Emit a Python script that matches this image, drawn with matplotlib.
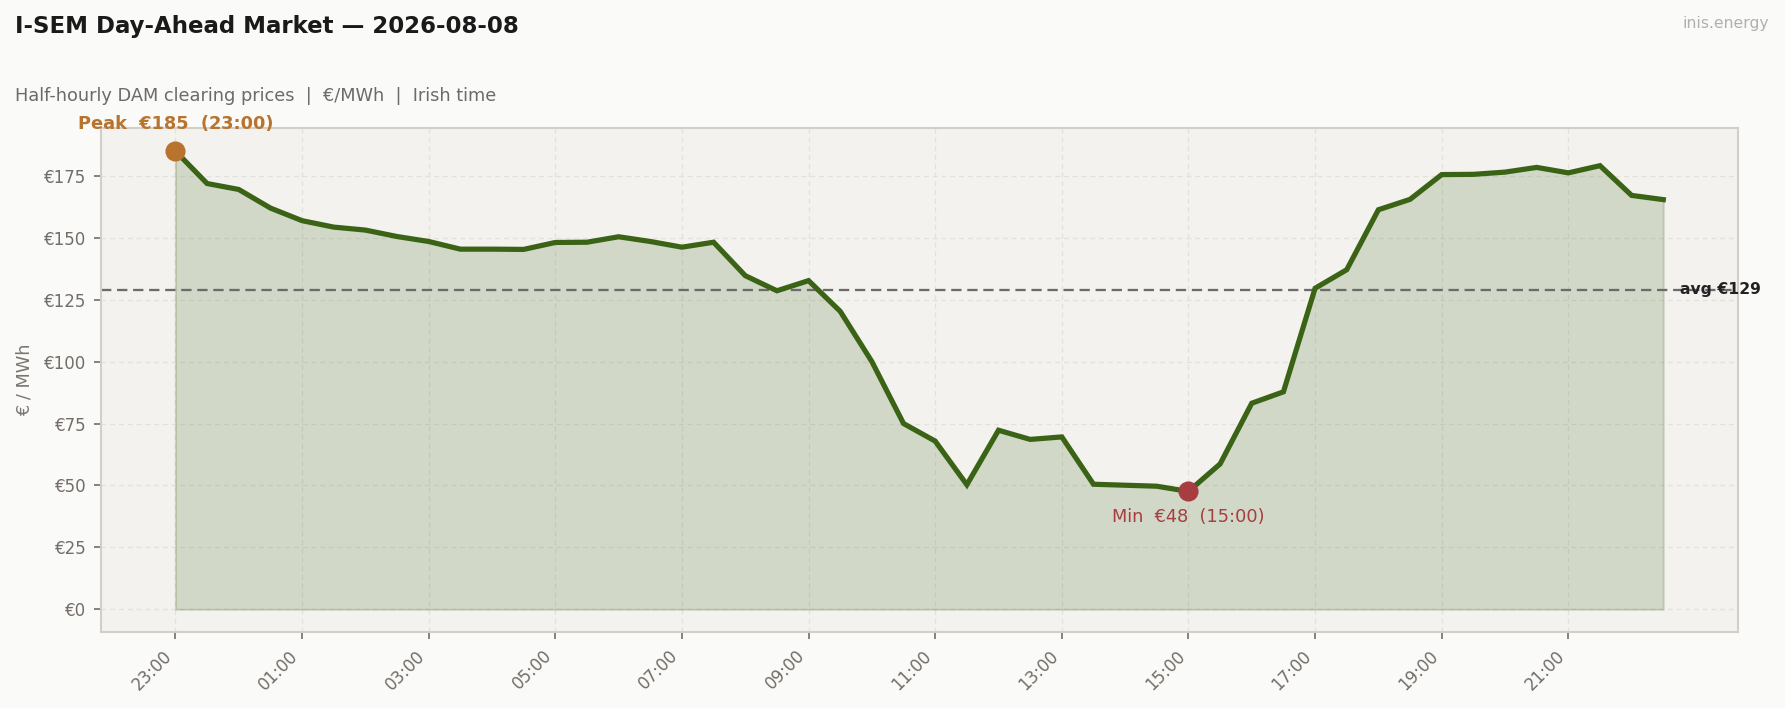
import matplotlib
matplotlib.use("Agg")
import matplotlib.pyplot as plt
import matplotlib.dates as mdates
import numpy as np
import pandas as pd

# ---- data ----
start_time = "2026-08-07 23:00"
n_periods = 48
prices = [
    185.0, 171.9, 169.5, 162.0, 156.9, 154.3, 153.1, 150.5,
    148.5, 145.4, 145.4, 145.3, 148.1, 148.2, 150.4, 148.5,
    146.2, 148.2, 134.7, 128.6, 132.7, 120.3, 100.0, 75.0,
    67.9, 50.3, 72.3, 68.6, 69.6, 50.5, 50.1, 49.7,
    47.6, 58.7, 83.2, 87.8, 129.6, 137.1, 161.3, 165.5,
    175.5, 175.6, 176.5, 178.4, 176.2, 179.1, 167.1, 165.4,
]
tick_hours = [23, 1, 3, 5, 7, 9, 11, 13, 15, 17, 19, 21]
avg_price = 129

title = "I-SEM Day-Ahead Market \u2014 2026-08-08"
subtitle = "Half-hourly DAM clearing prices  |  \u20ac/MWh  |  Irish time"
watermark = "inis.energy"
ylabel = "\u20ac / MWh"

times = pd.date_range(start_time, periods=n_periods, freq="30min")
prices = np.array(prices)
tick_times = [t for t in times if t.minute == 0 and t.hour in tick_hours]

# ---- style ----
BG = "#fafaf8"
AX_BG = "#f3f2ef"
GREEN = "#3b6315"
PEAK_C = "#b8732e"
MIN_C = "#a63d40"
TXT_GRAY = "#6e6a66"

fig = plt.figure(figsize=(11.9, 4.72), dpi=150, facecolor=BG)
ax = fig.add_axes([0.0566, 0.107, 0.9169, 0.712])
ax.set_facecolor(AX_BG)

ax.fill_between(times, prices, 0, color=GREEN, alpha=0.18, linewidth=1.0)
ax.plot(times, prices, color=GREEN, lw=2.5, solid_joinstyle="miter", zorder=3)

ax.axhline(avg_price, color="#6b6b6b", lw=1.1, ls=(0, (4.5, 2.5)), zorder=2)
ax.annotate(f"avg \u20ac{avg_price}", xy=(times[-1], avg_price), xytext=(8, 0),
            textcoords="offset points", ha="left", va="center",
            fontsize=7.5, fontweight="bold", color="#222222",
            annotation_clip=False, zorder=4)

imax = int(np.argmax(prices))
imin = int(np.argmin(prices))
ax.scatter([times[imax]], [prices[imax]], s=75, color=PEAK_C, zorder=5)
ax.scatter([times[imin]], [prices[imin]], s=75, color=MIN_C, zorder=5)
ax.annotate(f"Peak  \u20ac{prices[imax]:.0f}  ({times[imax]:%H:%M})",
            xy=(times[imax], prices[imax]), xytext=(0, 8.5),
            textcoords="offset points", ha="center", va="bottom",
            fontsize=8.5, fontweight="bold", color=PEAK_C, annotation_clip=False)
ax.annotate(f"Min  \u20ac{prices[imin]:.0f}  ({times[imin]:%H:%M})",
            xy=(times[imin], prices[imin]), xytext=(0, -8),
            textcoords="offset points", ha="center", va="top",
            fontsize=8.5, color=MIN_C, annotation_clip=False)

ax.xaxis.set_major_locator(matplotlib.ticker.FixedLocator(mdates.date2num(tick_times)))
ax.xaxis.set_major_formatter(mdates.DateFormatter("%H:%M"))
ax.yaxis.set_major_formatter(matplotlib.ticker.FuncFormatter(lambda v, p: f"\u20ac{v:.0f}"))
ax.yaxis.set_major_locator(matplotlib.ticker.MultipleLocator(25))
ax.margins(x=0.05, y=0.05)

plt.setp(ax.get_xticklabels(), rotation=45, ha="right")
ax.tick_params(axis="both", labelsize=8, colors="#736d68", length=3.5, width=0.8)

ax.grid(True, color="#e4e1dc", lw=0.6, ls=(0, (4, 3)))
ax.set_axisbelow(True)
for s in ax.spines.values():
    s.set_color("#d3cfc8")
    s.set_linewidth(1.0)

ax.set_ylabel(ylabel, fontsize=8.5, color="#7a7570")
ax.yaxis.set_label_coords(-0.041, 0.5)

fig.text(0.0084, 0.953, title, fontsize=11, fontweight="bold", color="#1a1a1a",
         ha="left", va="baseline")
fig.text(0.0084, 0.858, subtitle, fontsize=8.5, color=TXT_GRAY, ha="left", va="baseline")
fig.text(0.991, 0.960, watermark, fontsize=7.5, color="#b0b0b0", ha="right", va="baseline")

fig.savefig("out.png", dpi=150, facecolor=BG)
